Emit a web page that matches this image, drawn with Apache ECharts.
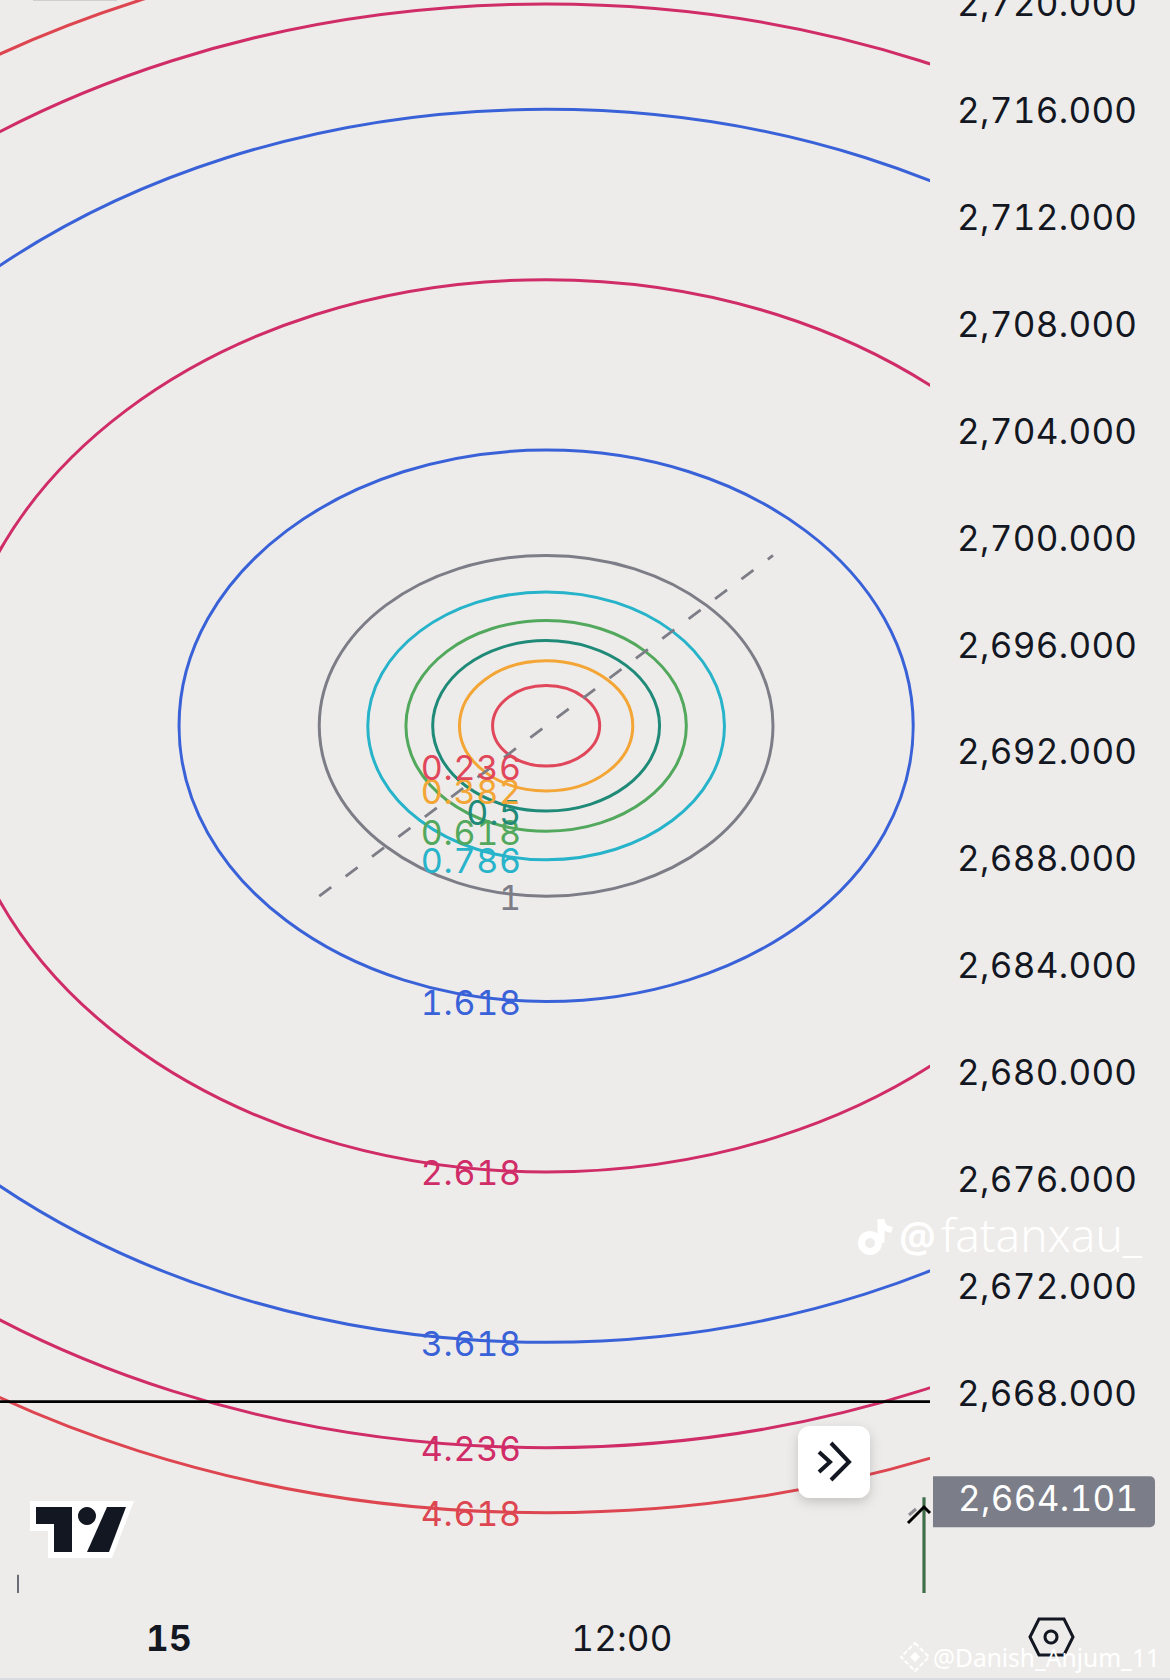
<!DOCTYPE html>
<html>
<head>
<meta charset="utf-8">
<style>
html,body{margin:0;padding:0;background:#eeecea}
#c{width:1170px;height:1680px}
svg text[style*="Inter"]{font-variant-numeric:tabular-nums !important;letter-spacing:.8px !important}
svg text[style*="35px"]{letter-spacing:.3px !important}
</style>
<script src="https://cdn.jsdelivr.net/npm/echarts@6/dist/echarts.min.js"></script>
</head>
<body>
<div id="c"></div>
<script>
const fibLevels = [4.618, 4.236, 3.618, 2.618, 1.618, 1, 0.786, 0.618, 0.5, 0.382, 0.236];
const fibColors = ['#dd4650', '#cf2c68', '#3a62d8', '#cf2c68', '#3a62d8', '#7d7d87', '#27b3c9', '#52a85c', '#1f8a78', '#f3a535', '#e0475a'];
const fibLabels = ['4.618', '4.236', '3.618', '2.618', '1.618', '1', '0.786', '0.618', '0.5', '0.382', '0.236'];
const centerHour = 9.99;
const centerPrice = 2692.96;
const unitHours = 6.01;
const unitPrice = 6.375;
const labelHour = 9.35;
const priceTicks = [2720, 2716, 2712, 2708, 2704, 2700, 2696, 2692, 2688, 2684, 2680, 2676, 2672, 2668];
const timeTicks = [0, 12];
const timeLabels = { 0: '15', 12: '12:00' };
const trendLine = [[3.98, 2686.585], [16.0, 2699.335]];
const horizontalLine = [[-4.477, 2667.68], [20.159, 2667.68]];
const lastPrice = 2664.101;
const wicks = [[-4, 2660.518, 2661.2, '#6b6e78'], [20, 2660.518, 2664.1, '#3f6f4a']];

const font = 'Inter, "Noto Sans", sans-serif';
const fmt = v => v.toLocaleString('en-US', { minimumFractionDigits: 3, maximumFractionDigits: 3 });

const chart = echarts.init(document.getElementById('c'), null, { renderer: 'svg' });

function chrome() {
  const dark = '#131722';
  const poly = (pts, fill) => ({ type: 'polygon', z: 100, shape: { points: pts }, style: { fill } });
  const pl = (pts, stroke, w) => ({ type: 'polyline', z: 101, shape: { points: pts }, style: { stroke, lineWidth: w, fill: 'none' } });
  return [
    { type: 'rect', z: 90, shape: { x: 0, y: 1678, width: 1170, height: 2 }, style: { fill: '#d8dbe0' } },
    { type: 'rect', z: 90, shape: { x: 33, y: 0, width: 84, height: 1 }, style: { fill: '#cfcfcf' } },
    // logo
    poly([[30, 1501], [134, 1501], [112, 1558], [48, 1558], [48, 1531], [30, 1531]], '#ffffff'),
    { type: 'polygon', z: 101, shape: { points: [[36, 1507], [72, 1507], [72, 1552], [54, 1552], [54, 1524], [36, 1524]] }, style: { fill: dark } },
    { type: 'circle', z: 101, shape: { cx: 87, cy: 1516, r: 9 }, style: { fill: dark } },
    { type: 'polygon', z: 101, shape: { points: [[107, 1507], [126, 1507], [109, 1552], [87, 1552]] }, style: { fill: dark } },
    // scroll button
    { type: 'rect', z: 100, shape: { x: 798, y: 1426, width: 72, height: 72, r: 12 },
      style: { fill: '#ffffff', shadowBlur: 12, shadowColor: 'rgba(0,0,0,0.18)', shadowOffsetY: 4 } },
    pl([[819, 1452], [830, 1462], [819, 1472]], dark, 4),
    pl([[831, 1443], [849, 1462], [831, 1480]], dark, 4),
    // crosshair arrow
    pl([[909, 1515], [916, 1509]], '#8d8d93', 3),
    pl([[908, 1523], [924, 1507], [930, 1513]], '#000000', 3),
    // settings
    { type: 'polygon', z: 100, shape: { points: [[1030, 1637], [1039, 1619], [1064, 1619], [1073, 1637], [1064, 1655], [1039, 1655]] }, style: { fill: 'none', stroke: dark, lineWidth: 3 } },
    { type: 'circle', z: 100, shape: { cx: 1051, cy: 1637, r: 6 }, style: { fill: 'none', stroke: dark, lineWidth: 3 } },
    // watermark 1
    { type: 'circle', z: 102, shape: { cx: 870, cy: 1243, r: 8.5 }, style: { fill: 'none', stroke: '#fff', lineWidth: 7 } },
    pl([[881, 1243], [881, 1219]], '#ffffff', 7),
    { type: 'polyline', z: 102, shape: { points: [[881, 1221], [885, 1228], [892, 1230]] }, style: { stroke: '#fff', lineWidth: 6, fill: 'none' } },
    { type: 'text', z: 102, style: { text: '@', x: 899, y: 1236, fill: '#ffffff', font: '600 41px "Noto Sans"', verticalAlign: 'middle', shadowBlur: 3, shadowColor: 'rgba(0,0,0,0.12)' } },
    { type: 'text', z: 102, style: { text: 'fatanxau_', x: 941, y: 1234, fill: '#ffffff', font: '300 46px "Noto Sans"', verticalAlign: 'middle', shadowBlur: 3, shadowColor: 'rgba(0,0,0,0.12)' } },
    // watermark 2
    { type: 'polygon', z: 102, shape: { points: [[915, 1643], [929, 1657], [915, 1671], [901, 1657]] }, style: { fill: 'none', stroke: '#ffffff', lineWidth: 2, lineDash: [5, 2] } },
    { type: 'polygon', z: 102, shape: { points: [[915, 1652], [920, 1657], [915, 1662], [910, 1657]] }, style: { fill: '#ffffff' } },
    { type: 'text', z: 102, style: { text: '@Danish_Anjum_11', x: 933, y: 1657, fill: '#ffffff', font: '24.5px "Noto Sans"', verticalAlign: 'middle', shadowBlur: 2, shadowColor: 'rgba(0,0,0,0.25)' } }
  ];
}

const fibData = fibLevels.map((lv, i) => [lv, fibColors[i], fibLabels[i]]);

chart.setOption({
  animation: false,
  backgroundColor: '#eeecea',
  grid: { left: 0, top: 0, width: 930, height: 1593, containLabel: false, outerBoundsMode: 'none' },
  xAxis: {
    type: 'value', min: -4.477, max: 20.159,
    splitLine: { show: false }, axisLine: { show: false }, axisTick: { show: false },
    axisLabel: {
      customValues: timeTicks, margin: 27, color: '#131722', fontFamily: font, fontSize: 35,
      formatter: v => v === 0 ? '{b|' + timeLabels[v] + '}' : timeLabels[v],
      rich: { b: { fontFamily: font, fontSize: 35, fontWeight: 700, color: '#131722' } }
    }
  },
  yAxis: {
    type: 'value', position: 'right', min: 2660.518, max: 2720.114,
    splitLine: { show: false }, axisLine: { show: false }, axisTick: { show: false },
    axisLabel: { customValues: priceTicks, margin: 27, color: '#131722', fontFamily: font, fontSize: 35, padding: [0, 0, 2, 0], formatter: v => fmt(v) }
  },
  series: [
    {
      type: 'custom', name: 'fib', coordinateSystem: 'cartesian2d', clip: true, silent: true,
      encode: { x: [], y: [] }, data: fibData.map(d => [d[0]]),
      renderItem: (p, api) => {
        const i = p.dataIndex, lv = fibLevels[i];
        const c = api.coord([centerHour, centerPrice]);
        const e = api.coord([centerHour + lv * unitHours, centerPrice - lv * unitPrice]);
        return { type: 'ellipse', shape: { cx: c[0], cy: c[1], rx: e[0] - c[0], ry: e[1] - c[1] },
          style: { fill: 'none', stroke: fibColors[i], lineWidth: 3 } };
      }
    },
    {
      type: 'line', name: 'trend', data: trendLine, symbol: 'none', silent: true, z: 3,
      lineStyle: { color: '#7d7d87', width: 2.8, type: [15, 18] }
    },
    {
      type: 'line', name: 'hline', data: horizontalLine, symbol: 'none', silent: true, z: 3,
      lineStyle: { color: '#000000', width: 2.8 }
    },
    {
      type: 'custom', name: 'wicks', clip: true, silent: true, z: 3,
      encode: { x: 0, y: 1 }, data: wicks.map(w => [w[0], w[1], w[2]]),
      renderItem: (p, api) => {
        const w = wicks[p.dataIndex];
        const a = api.coord([w[0], w[1]]), b = api.coord([w[0], w[2]]);
        return { type: 'line', shape: { x1: a[0], y1: a[1], x2: b[0], y2: b[1] }, style: { stroke: w[3], lineWidth: p.dataIndex ? 3.2 : 2 } };
      }
    },
    {
      type: 'custom', name: 'fibLabels', clip: false, silent: true, z: 4,
      encode: { x: [], y: [] }, data: fibData.map(d => [d[0]]),
      renderItem: (p, api) => {
        const i = p.dataIndex, lv = fibLevels[i];
        const q = api.coord([labelHour, centerPrice - lv * unitPrice]);
        return { type: 'text', style: { text: fibLabels[i], x: q[0], y: q[1] + 1, fill: fibColors[i],
          font: '34px ' + font, align: 'right', verticalAlign: 'middle' } };
      }
    },
    {
      type: 'custom', name: 'lastPrice', clip: false, silent: true, z: 5,
      encode: { x: [], y: 0 }, data: [[lastPrice]],
      renderItem: (p, api) => {
        const y = api.coord([20, lastPrice])[1];
        return { type: 'group', children: [
          { type: 'rect', shape: { x: 933, y: y - 21, width: 222, height: 51, r: [0, 5, 5, 0] }, style: { fill: '#7b7d88' } },
          { type: 'text', style: { text: fmt(lastPrice), x: 958, y: y + 1, fill: '#ffffff', font: '35px ' + font, align: 'left', verticalAlign: 'middle' } }
        ] };
      }
    }
  ],
  graphic: { elements: chrome() }
});
</script>
</body>
</html>
